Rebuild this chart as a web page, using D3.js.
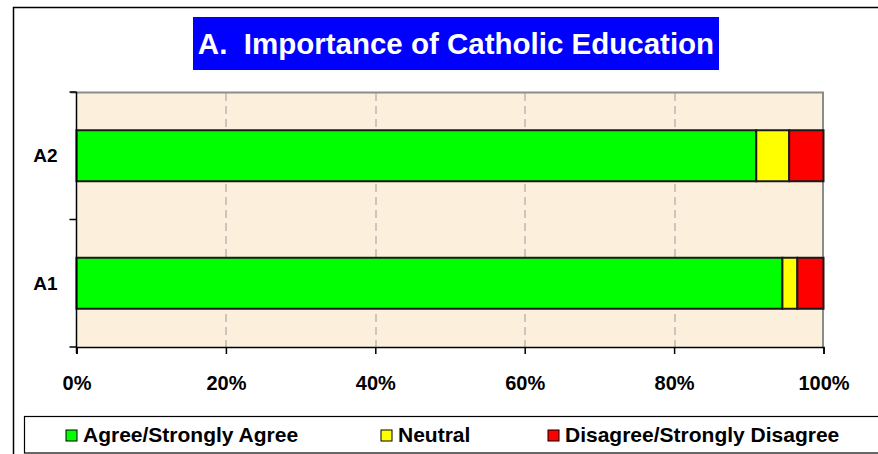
<!DOCTYPE html>
<html>
<head>
<meta charset="utf-8">
<script src="https://cdn.jsdelivr.net/npm/d3@7"></script>
<style>
  body { margin: 0; background: #fff; }
  svg { display: block; font-family: "Liberation Sans", Arial, sans-serif; }
</style>
</head>
<body>
<svg id="chart" width="878" height="454"></svg>
<script>
// data
var categories = ["A2", "A1"];
var series = ["Agree/Strongly Agree", "Neutral", "Disagree/Strongly Disagree"];
var colors = ["#00ff00", "#ffff00", "#ff0000"];
var agree = [91.0, 94.5];
var neutral = [4.4, 2.0];
var disagree = [4.6, 3.5];
var xTicks = [0, 20, 40, 60, 80, 100];

var margin = {top: 92, right: 54.5, bottom: 107, left: 76.5};
var W = 878, H = 454;
var width = W - margin.left - margin.right;
var height = H - margin.top - margin.bottom;

var svg = d3.select("#chart");

// outer frame
svg.append("path")
  .attr("d", "M13.5,454 V7.5 H878")
  .attr("fill", "none")
  .attr("stroke", "#000")
  .attr("stroke-width", 1.5);

// title
var titleG = svg.append("g");
titleG.append("rect")
  .attr("x", 193).attr("y", 17).attr("width", 526).attr("height", 53)
  .attr("fill", "#0000ff");
titleG.append("text")
  .attr("x", 456).attr("y", 54)
  .attr("text-anchor", "middle")
  .style("white-space", "pre")
  .attr("fill", "#fff")
  .attr("font-weight", "bold")
  .attr("font-size", "29.5px")
  .text("A.  Importance of Catholic Education");

var g = svg.append("g").attr("transform", "translate(" + margin.left + "," + margin.top + ")");

var x = d3.scaleLinear().domain([0, 100]).range([0, width]);
var y = d3.scaleBand().domain(categories).range([0, height]).paddingInner(0.6).paddingOuter(0.3);
var yOuter = d3.scaleBand().domain(categories).range([0, height]);

// plot background
g.append("rect")
  .attr("width", width).attr("height", height)
  .attr("fill", "#fcf0dd");
// top/right shadow border
g.append("path")
  .attr("d", "M-6,0.5 H" + (width - 0.5) + " V" + height)
  .attr("fill", "none").attr("stroke", "#8c8c8c").attr("stroke-width", 2);

// gridlines
g.selectAll(".grid").data(xTicks.slice(1, -1)).enter().append("line")
  .attr("class", "grid")
  .attr("x1", function(d) { return Math.round(x(d)) + 0.5; })
  .attr("x2", function(d) { return Math.round(x(d)) + 0.5; })
  .attr("y1", 1).attr("y2", height)
  .attr("stroke", "#9a9a9a").attr("stroke-dasharray", "8,5");

// stacked bars
var rows = categories.map(function(c, i) {
  return {cat: c, "Agree/Strongly Agree": agree[i], "Neutral": neutral[i], "Disagree/Strongly Disagree": disagree[i]};
});
var stacked = d3.stack().keys(series)(rows);

g.selectAll(".layer").data(stacked).enter().append("g")
  .attr("class", "layer")
  .attr("fill", function(d, i) { return colors[i]; })
  .selectAll("rect").data(function(d) { return d; }).enter().append("rect")
  .attr("x", function(d) { return x(d[0]); })
  .attr("width", function(d) { return x(d[1]) - x(d[0]); })
  .attr("y", function(d) { return y(d.data.cat); })
  .attr("height", y.bandwidth())
  .attr("stroke", "#1a1a1a").attr("stroke-width", 2);

// y axis
var yAxis = g.append("g");
yAxis.append("line").attr("x1", 0).attr("x2", 0).attr("y1", 0).attr("y2", height + 6)
  .attr("stroke", "#000").attr("stroke-width", 1.5);
var yTickPos = [0].concat(categories.map(function(c) { return yOuter(c) + yOuter.bandwidth(); }));
yAxis.selectAll(".yt").data(yTickPos).enter().append("line")
  .attr("x1", -7).attr("x2", 0)
  .attr("y1", function(d) { return d; }).attr("y2", function(d) { return d; })
  .attr("stroke", "#000").attr("stroke-width", 1.5);
yAxis.selectAll(".ylab").data(categories).enter().append("text")
  .attr("x", -19)
  .attr("y", function(d) { return y(d) + y.bandwidth() / 2; })
  .attr("dy", "0.35em")
  .attr("text-anchor", "end")
  .attr("font-weight", "bold").attr("font-size", "19px")
  .text(function(d) { return d; });

// x axis
var xAxis = g.append("g").attr("transform", "translate(0," + height + ")")
  .call(d3.axisBottom(x).tickValues(xTicks).tickSize(7).tickPadding(22).tickFormat(function(d) { return d + "%"; }));
xAxis.select(".domain").attr("stroke-width", 1.5);
xAxis.selectAll(".tick line").attr("stroke-width", 1.5);
xAxis.selectAll(".tick text")
  .attr("font-family", "Liberation Sans, Arial, sans-serif")
  .attr("font-weight", "bold").attr("font-size", "20px").attr("fill", "#000");

// legend
var leg = svg.append("g");
leg.append("rect")
  .attr("x", 24.5).attr("y", 416.5).attr("width", 880).attr("height", 36.5)
  .attr("fill", "#fff").attr("stroke", "#000").attr("stroke-width", 1.2);
var legX = [66, 381, 548];
var items = leg.selectAll(".item").data(series).enter().append("g")
  .attr("transform", function(d, i) { return "translate(" + legX[i] + ",435)"; });
items.append("rect")
  .attr("x", 0).attr("y", -5).attr("width", 11).attr("height", 11)
  .attr("fill", function(d, i) { return colors[i]; })
  .attr("stroke", "#000").attr("stroke-width", 1);
items.append("text")
  .attr("x", 17).attr("dy", "0.35em")
  .attr("font-weight", "bold").attr("font-size", "21px")
  .text(function(d) { return d; });
</script>
</body>
</html>
